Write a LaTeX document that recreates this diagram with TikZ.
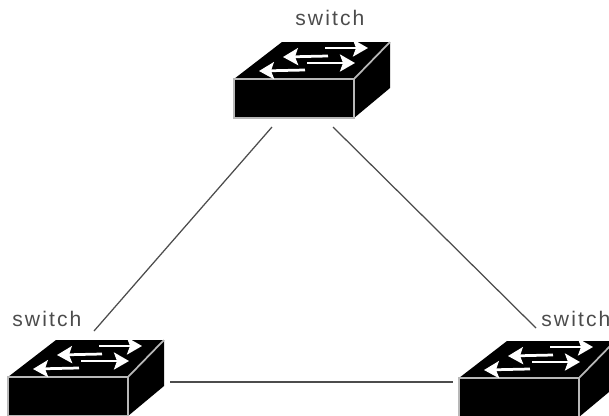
\documentclass[tikz,border=0pt]{standalone}
\usepackage{fontspec}
\usepackage{tikz}
\usetikzlibrary{arrows.meta}
\setmainfont[LetterSpace=10]{Liberation Sans}
\definecolor{linkgray}{gray}{0.3}
\definecolor{edgegray}{gray}{0.72}
\tikzset{
  switchlabel/.style={anchor=base west,inner sep=0pt,text=linkgray,font=\fontsize{12}{14}\selectfont},
  link/.style={draw=linkgray,line width=0.025cm},
  flow/.style={draw=white,line width=0.055cm,-{Stealth[length=0.3cm,width=0.34cm,inset=0.06cm]}},
  switchicon/.pic={
    \fill[black] (0,0) -- (0,-39) -- (48,-76) -- (156,-76) -- (156,-30) -- (120,0) -- cycle;
    \draw[edgegray,line width=0.035cm] (0,0) rectangle (120,-39);
    \draw[edgegray,line width=0.035cm] (120,-39) -- (156,-76);
    \draw[flow] (91,-70) -- (134,-70);
    \draw[flow] (94,-62) -- (49,-61);
    \draw[flow] (73,-55) -- (121,-55);
    \draw[flow] (71,-48) -- (25,-47);
    \coordinate (-sw) at (38,9);
    \coordinate (-se) at (99,9);
    \coordinate (-ne) at (86,-85);
    \coordinate (-nw) at (77,-89);
    \coordinate (-e) at (162,-34);
    \coordinate (-w) at (-6,-35);
  }
}
\begin{document}
\begin{tikzpicture}[x=0.02cm,y=-0.02cm]
\useasboundingbox (0,0) rectangle (609,416);
\clip (0,0) rectangle (609,416);
\pic (top) at (234,118) {switchicon};
\pic (left) at (8,416) {switchicon};
\pic (right) at (459,417) {switchicon};
\node[switchlabel] (toplabel) at (295,25) {switch};
\node[switchlabel] (leftlabel) at (12,326) {switch};
\node[switchlabel] (rightlabel) at (541,326) {switch};
\draw[link] (top-sw) -- (left-ne);
\draw[link] (top-se) -- (right-nw);
\draw[link] (left-e) -- (right-w);
\end{tikzpicture}
\end{document}
